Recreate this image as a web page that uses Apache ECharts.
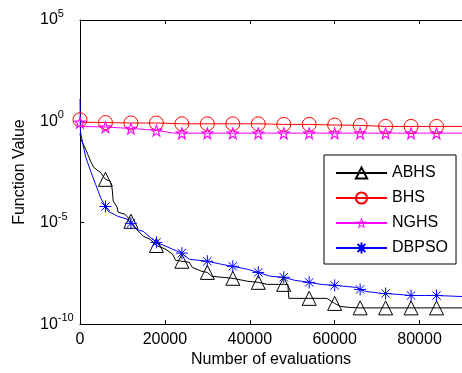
<!DOCTYPE html>
<html>
<head>
<meta charset="utf-8">
<script src="https://cdn.jsdelivr.net/npm/echarts@6/dist/echarts.min.js"></script>
<style>html,body{margin:0;padding:0;background:#fff;}#c{width:462px;height:373px;}</style>
</head>
<body>
<div id="c"></div>
<script>
// ---- data (function values given as powers of ten) ----
const seriesNames = ['ABHS', 'BHS', 'NGHS', 'DBPSO'];
const xTicks = [0, 20000, 40000, 60000, 80000];
const yTickExps = [5, 0, -5, -10];

const abhsEval = [0,230,920,1840,2530,3220,4830,6000,7130,7590,7820,8740,8970,10580,11730,12000,13330,14940,16550,18000,20230,21840,22530,24000,25750,26440,28740,30000,31040,33340,36000,39540,42000,44140,48000,48970,49200,54000,58160,60000,61380,63680,66000,72000,78000,84000,90000];
const abhsExp  = [-0.6,-0.89,-1.18,-1.63,-1.98,-2.27,-2.52,-2.86,-2.95,-3.34,-3.93,-4.23,-4.48,-4.58,-4.83,-4.93,-5.33,-5.67,-5.82,-6.12,-6.31,-6.56,-6.85,-6.9,-6.95,-7.2,-7.4,-7.45,-7.64,-7.69,-7.74,-7.89,-7.94,-8.04,-8.04,-8.04,-8.73,-8.73,-8.73,-8.98,-9.13,-9.18,-9.2,-9.2,-9.2,-9.2,-9.2];

const bhsEval = [0,300,6000,12000,18000,24000,30000,36000,42000,48000,54000,60000,66000,72000,78000,84000,90000];
const bhsExp  = [0.08,-0.04,-0.06,-0.08,-0.08,-0.12,-0.12,-0.12,-0.12,-0.15,-0.15,-0.18,-0.2,-0.25,-0.25,-0.25,-0.25];

const nghsEval = [0,300,6000,12000,15400,18000,22300,24000,30000,36000,42000,48000,54000,60000,66000,72000,78000,84000,90000];
const nghsExp  = [-0.05,-0.25,-0.28,-0.35,-0.4,-0.45,-0.58,-0.58,-0.58,-0.58,-0.58,-0.58,-0.58,-0.58,-0.58,-0.58,-0.58,-0.58,-0.58];

const dbpsoEval = [0,100,690,1380,2530,3680,4830,6000,6670,8970,11270,12000,13330,14940,16550,18000,20230,21840,24000,25750,30000,33340,36000,39540,42000,44830,48000,50580,54000,56790,60000,65060,66000,67360,71270,72000,75180,78000,81150,84000,90000];
const dbpsoExp  = [1.1,-0.5,-1.14,-1.78,-2.47,-3.11,-3.75,-4.2,-4.44,-4.69,-4.83,-5.03,-5.33,-5.43,-5.72,-5.97,-6.16,-6.31,-6.5,-6.8,-6.9,-7.05,-7.15,-7.3,-7.45,-7.64,-7.69,-7.84,-7.94,-8.04,-8.09,-8.19,-8.29,-8.39,-8.49,-8.49,-8.54,-8.59,-8.59,-8.59,-8.64];

// evaluations where a marker is drawn
const markersMain = [6000,12000,18000,24000,30000,36000,42000,48000,54000,60000,66000,72000,78000,84000];
const markersFlat = [0,6000,12000,18000,24000,30000,36000,42000,48000,54000,60000,66000,72000,78000,84000];

// ---- build ----
const FONT = '"Liberation Sans", Arial, Helvetica, sans-serif';
// hollow star drawn as a filled ring (outer star + reversed inner star)
const STAR = 'path://M10 0 L12.35 6.76 L19.51 6.91 L13.8 11.24 L15.88 18.09 L10 14 L4.12 18.09 L6.2 11.24 L0.49 6.91 L7.65 6.76 Z ' +
             'M10 4.5 L8.71 8.22 L4.77 8.30 L7.91 10.68 L6.77 14.45 L10 12.2 L13.23 14.45 L12.09 10.68 L15.23 8.30 L11.29 8.22 Z';
const ASTER = 'path://M10 0 L10 20 M0 10 L20 10 M3 3 L17 17 M17 3 L3 17';

function build(evals, exps, marks) {
  return evals.map((x, i) => {
    const item = { value: [x, Math.pow(10, exps[i])] };
    if (marks.indexOf(x) < 0) item.symbol = 'none';
    return item;
  });
}

function mkSeries(name, color, symbol, size, data, filledRing) {
  return {
    name: name, type: 'line', data: data,
    symbol: symbol, symbolSize: size, showSymbol: true, showAllSymbol: true,
    lineStyle: { color: color, width: 1 },
    itemStyle: filledRing
      ? { color: color, borderWidth: 0 }
      : { color: 'rgba(0,0,0,0)', borderColor: color, borderWidth: 1 },
    emphasis: { disabled: true }, silent: true, z: 3
  };
}

const chart = echarts.init(document.getElementById('c'), null, { renderer: 'canvas' });
chart.setOption({
  animation: false,
  backgroundColor: '#fff',
  textStyle: { fontFamily: FONT },
  grid: { left: 80, top: 20, right: -10, bottom: 48, containLabel: false },
  legend: {
    orient: 'vertical', left: 324, top: 155,
    backgroundColor: '#fff',
    borderColor: '#000', borderWidth: 1, borderRadius: 0,
    padding: [10, 8, 8, 11],
    itemWidth: 51, itemHeight: 14, itemGap: 9,
    textStyle: { fontFamily: FONT, fontSize: 16, color: '#000' },
    data: seriesNames
  },
  xAxis: [{
    type: 'value', min: 0, max: 90000, interval: 20000,
    name: 'Number of evaluations', nameLocation: 'middle', nameGap: 24,
    nameTextStyle: { fontFamily: FONT, fontSize: 16, color: '#000' },
    axisLine: { show: true, onZero: false, lineStyle: { color: '#000', width: 1 } },
    axisTick: { show: true, inside: true, length: 4, lineStyle: { color: '#000' } },
    axisLabel: { fontFamily: FONT, fontSize: 16, color: '#000', margin: 7,
      customValues: xTicks, formatter: v => String(v) },
    splitLine: { show: false }
  }, {
    type: 'value', min: 0, max: 90000, interval: 20000, position: 'top',
    axisLine: { show: true, onZero: false, lineStyle: { color: '#000', width: 1 } },
    axisTick: { show: true, inside: true, length: 4, lineStyle: { color: '#000' } },
    axisLabel: { show: false }, splitLine: { show: false }
  }],
  yAxis: [{
    type: 'log', logBase: 10, min: 1e-10, max: 1e5, interval: 5,
    name: 'Function Value', nameLocation: 'middle', nameGap: 52,
    nameTextStyle: { fontFamily: FONT, fontSize: 16, color: '#000' },
    axisLine: { show: true, onZero: false, lineStyle: { color: '#000', width: 1 } },
    axisTick: { show: true, inside: true, length: 4, lineStyle: { color: '#000' } },
    minorTick: { show: false },
    splitLine: { show: false },
    axisLabel: {
      align: 'left', margin: 40,
      formatter: v => '{b|10}{s|' + Math.round(Math.log10(v)) + '}',
      rich: {
        b: { fontFamily: FONT, fontSize: 16, color: '#000' },
        s: { fontFamily: FONT, fontSize: 11, color: '#000', padding: [0, 0, 12, 0] }
      }
    }
  }],
  series: [
    mkSeries('ABHS', '#000000', 'triangle', 14, build(abhsEval, abhsExp, markersMain), false),
    mkSeries('BHS', '#ff0000', 'circle', 14, build(bhsEval, bhsExp, markersFlat), false),
    mkSeries('NGHS', '#ff00ff', STAR, 14, build(nghsEval, nghsExp, markersFlat), true),
    mkSeries('DBPSO', '#0000ff', ASTER, 12, build(dbpsoEval, dbpsoExp, markersMain), false)
  ]
});
</script>
</body>
</html>
